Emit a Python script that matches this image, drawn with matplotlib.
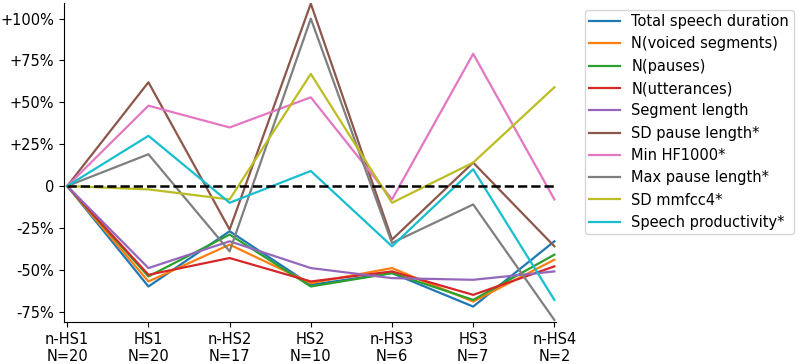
import numpy as np
import matplotlib.pyplot as plt

# groups on the x axis
groups = ["n-HS1", "HS1", "n-HS2", "HS2", "n-HS3", "HS3", "n-HS4"]
counts = [20, 20, 17, 10, 6, 7, 2]

# relative change vs n-HS1 (%)
total_speech = [0, -60, -27, -59, -52, -72, -33]
n_voiced = [0, -57, -35, -58, -49, -69, -44]
n_pauses = [0, -54, -29, -60, -52, -68, -41]
n_utter = [0, -53, -43, -57, -51, -65, -48]
seg_length = [0, -49, -33, -49, -55, -56, -51]
sd_pause = [0, 62, -26, 109, -32, 14, -36]
min_hf = [0, 48, 35, 53, -8, 79, -8]
max_pause = [0, 19, -39, 100, -34, -11, -80]
sd_mfcc = [0, -2, -8, 67, -10, 14, 59]
productivity = [0, 30, -10, 9, -36, 10, -68]

series = [
    ("Total speech duration", total_speech),
    ("N(voiced segments)", n_voiced),
    ("N(pauses)", n_pauses),
    ("N(utterances)", n_utter),
    ("Segment length", seg_length),
    ("SD pause length*", sd_pause),
    ("Min HF1000*", min_hf),
    ("Max pause length*", max_pause),
    ("SD mmfcc4*", sd_mfcc),
    ("Speech productivity*", productivity),
]

fs = 10.5

fig = plt.figure(figsize=(8, 3.64), dpi=100)
ax = fig.add_axes([0.08, 0.115, 0.615, 0.877])

x = np.arange(len(groups))
for label, vals in series:
    ax.plot(x, np.array(vals) / 100, lw=1.6, label=label)

ax.plot([x[0], x[-1]], [0, 0], "k--", lw=1.8)

ax.set_xlim(-0.04, 6.02)
ax.set_ylim(-0.813, 1.094)
ax.set_xticks(x)
ax.set_xticklabels([f"{g}\nN={n}" for g, n in zip(groups, counts)], fontsize=fs)
yt = [-0.75, -0.5, -0.25, 0, 0.25, 0.5, 0.75, 1.0]
ax.set_yticks(yt)
ax.set_yticklabels(["-75%", "-50%", "-25%", "0", "+25%", "+50%", "+75%", "+100%"], fontsize=fs)
ax.spines["top"].set_visible(False)
ax.spines["right"].set_visible(False)

fig.legend(loc="upper left", bbox_to_anchor=(0.731, 0.973), fontsize=fs,
           handlelength=2.1, labelspacing=0.5, borderaxespad=0, borderpad=0.3)

fig.savefig("out.png", dpi=100)
